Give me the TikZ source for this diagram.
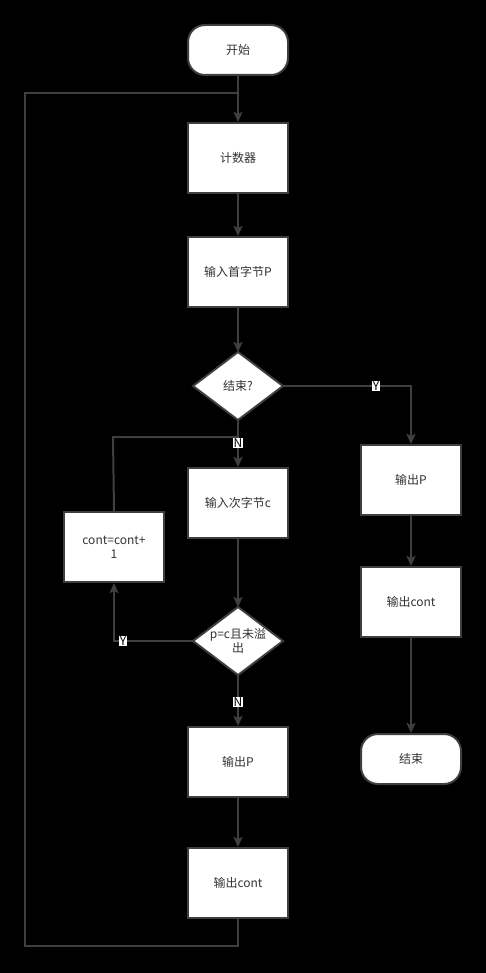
\documentclass[tikz,border=0pt]{standalone}
\usepackage{fontspec}
\setmainfont{Noto Sans CJK SC}
\usetikzlibrary{arrows.meta}
\definecolor{ln}{HTML}{3F3F3F}
\definecolor{tx}{HTML}{333333}
\tikzset{
  x=1pt, y=-1pt,
  base/.style={draw=ln, line width=2pt, fill=white, text=tx, font=\fontsize{12}{14}\selectfont, align=center, inner sep=0pt},
  proc/.style={base, minimum width=100pt, minimum height=70pt},
  term/.style={base, rounded corners=17pt, minimum width=100pt, minimum height=50pt},
  dec/.style={base},
  conn/.style={draw=ln, line width=2pt},
  arr/.style={conn, -{Stealth[length=10pt,width=9pt,inset=2pt]}},
  lbl/.style={fill=white, text=black, font=\fontsize{12}{13}\selectfont, inner sep=1pt}
}
\begin{document}
\begin{tikzpicture}
\fill[black] (0,0) rectangle (486,973);
\useasboundingbox (0,0) rectangle (486,973);
% nodes
\node[term] (start) at (238,50) {开始};
\node[proc] (cnt) at (238,158) {计数器};
\node[proc] (inp) at (238,272) {输入首字节P};
\path[dec] (238,352) coordinate (d1n) -- (283,386) coordinate (d1e) -- (238,420) coordinate (d1s) -- (193,386) coordinate (d1w) -- cycle;
\node[text=tx, font=\fontsize{12}{14}\selectfont] (d1) at (238,386) {结束?};
\node[proc] (inc) at (238,503) {输入次字节c};
\node[proc] (add) at (114,547) {cont=cont+\\1};
\path[dec] (238,607) coordinate (d2n) -- (283,641) coordinate (d2e) -- (238,675) coordinate (d2s) -- (193,641) coordinate (d2w) -- cycle;
\node[text=tx, font=\fontsize{12}{14}\selectfont, align=center] (d2) at (238,641) {p=c且未溢\\出};
\node[proc] (outp) at (238,762) {输出P};
\node[proc] (outc) at (238,883) {输出cont};
\node[proc] (outp2) at (411,480) {输出P};
\node[proc] (outc2) at (411,602) {输出cont};
\node[term] (end) at (411,759) {结束};
% loop coordinates
\coordinate (bl) at (25,946);
\coordinate (tl) at (25,93);
\coordinate (j1) at (238,93);
\coordinate (j2) at (113,437);
\coordinate (j3) at (238,437);
% connectors
\draw[conn] (outc.south) |- (bl) -- (tl) -- (j1);
\draw[arr] (start.south) -- (cnt.north);
\draw[arr] (cnt.south) -- (inp.north);
\draw[arr] (inp.south) -- (d1n);
\draw[conn] (add.north) -- (j2) -- (j3);
\draw[arr] (d1s) -- (inc.north);
\draw[arr] (inc.south) -- (d2n);
\draw[arr] (d2w) -| (add.south);
\draw[arr] (d2s) -- (outp.north);
\draw[arr] (outp.south) -- (outc.north);
\draw[arr] (d1e) -| (outp2.north);
\draw[arr] (outp2.south) -- (outc2.north);
\draw[arr] (outc2.south) -- (end.north);
% labels
\node[lbl] (ln1) at (238,443) {N};
\node[lbl] (ly1) at (376,386) {Y};
\node[lbl] (ly2) at (123,641) {Y};
\node[lbl] (ln2) at (238,702) {N};
\end{tikzpicture}
\end{document}
